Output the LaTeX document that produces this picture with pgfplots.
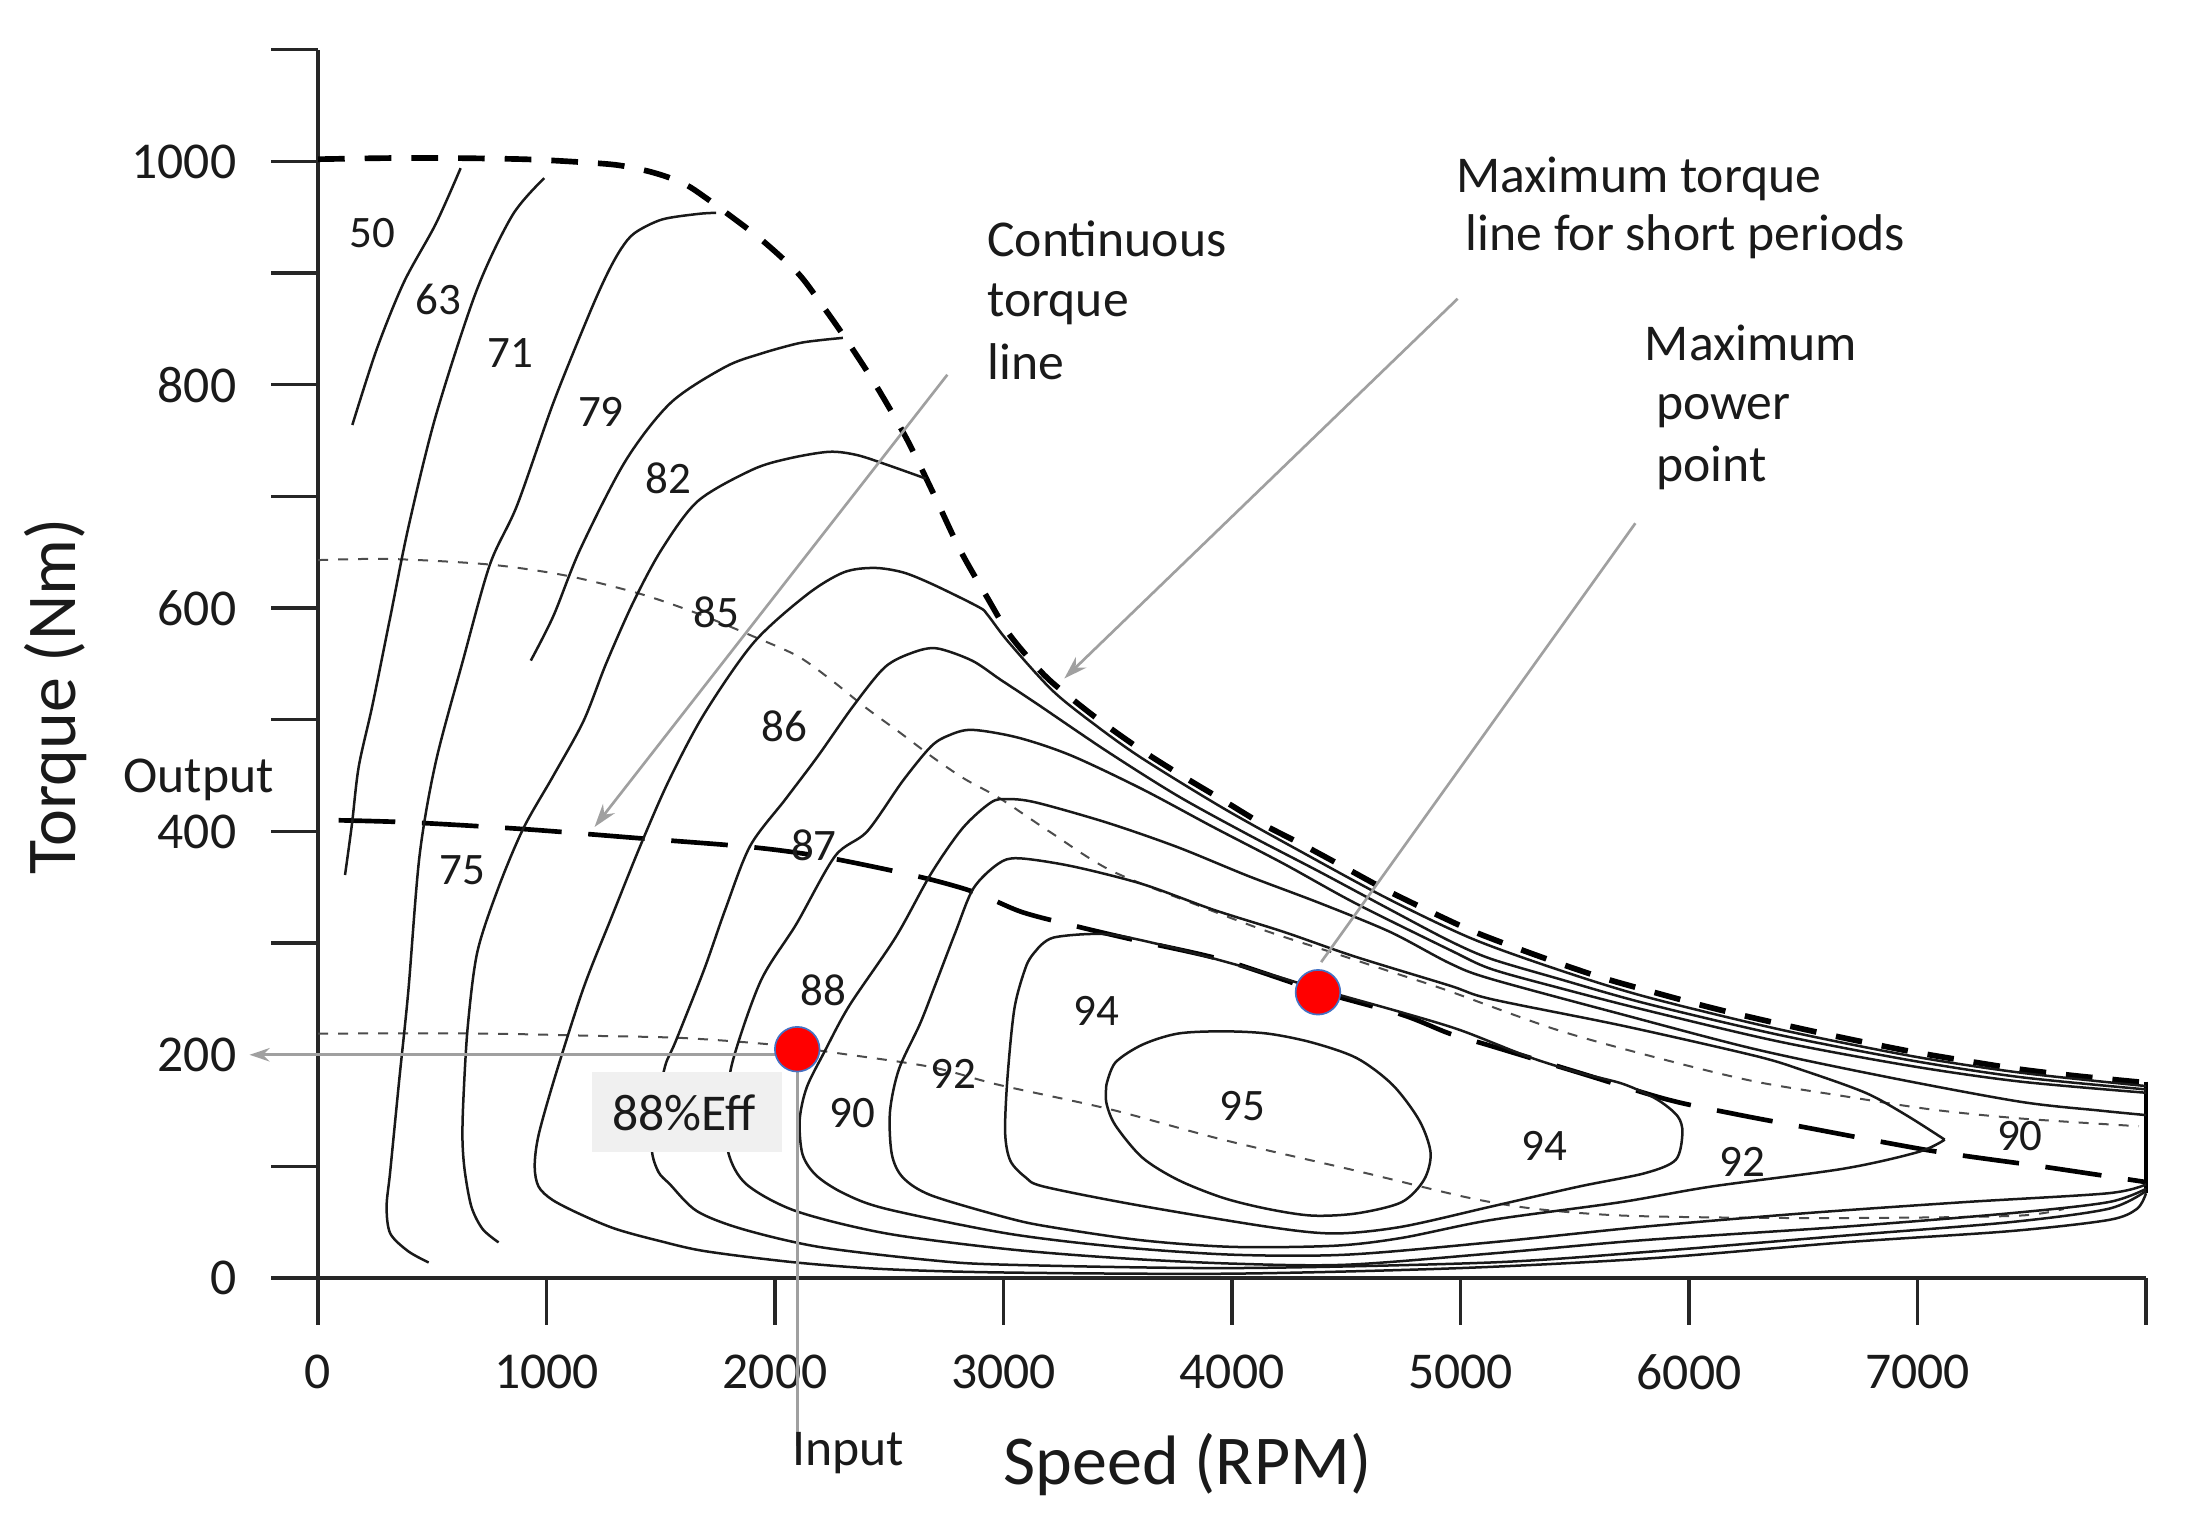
\documentclass[border=0pt]{standalone}
\usepackage{fontspec}
\setmainfont{Carlito}
\usepackage{pgfplots}
\pgfplotsset{compat=1.18}
\usetikzlibrary{arrows.meta}

\definecolor{txt}{HTML}{1A1A1A}
\definecolor{arrowgray}{HTML}{A0A0A0}
\definecolor{boxgray}{HTML}{F0F0F0}
\definecolor{dotblue}{HTML}{4472C4}

\newcommand{\ann}{\fontsize{15.5}{18}\selectfont}
\newcommand{\clab}{\fontsize{13.5}{16}\selectfont}

\pgfplotsset{
  contour/.style={black!90, line width=0.75pt, smooth, no markers},
  maxtorque/.style={black, line width=1.7pt, dash pattern=on 8pt off 6pt, smooth, no markers},
  conttorque/.style={black, line width=1.4pt, dash pattern=on 17pt off 8pt, smooth, no markers},
  dotline/.style={black!70, line width=0.6pt, dash pattern=on 3pt off 3pt, smooth, no markers},
}

\begin{document}
\begin{tikzpicture}
\begin{axis}[
  scale only axis, width=548.4pt, height=368.5pt,
  xmin=0, xmax=8000, ymin=0, ymax=1100,
  axis lines=left,
  axis line style={-, line width=1pt, black!85},
  tick align=outside, major tick length=14pt,
  tick style={line width=1pt, black!85},
  xtick={0,1000,...,8000},
  xticklabels={0,1000,2000,3000,4000,5000,6000,7000,},
  ytick={0,100,...,1100},
  yticklabels={0,,200,,400,,600,,800,,1000,},
  ticklabel style={font=\ann, text=txt},
  xticklabel style={yshift=-5.5pt},
  yticklabel style={xshift=-7pt},
  xlabel={Speed (RPM)}, ylabel={Torque (Nm)},
  label style={font=\fontsize{21}{24}\selectfont, text=txt},
  x label style={at={(axis description cs:0.4756,-0.1515)}, anchor=center},
  y label style={at={(axis description cs:-0.1434,0.4736)}, anchor=center},
  clip=false,
]

% maximum torque line for short periods
\addplot[maxtorque] coordinates {
(0,1002) (300,1003) (600,1003) (900,1002) (1100,1000) (1300,997) (1430,992) (1530,986)
(1620,978) (1700,967) (1780,955) (1940,930) (2100,900) (2200,873) (2300,844) (2440,800)
(2575,752) (2690,704) (2810,652) (2930,609) (3020,578) (3120,553) (3215,533) (3410,501)
(3610,472) (3780,450) (3960,428) (4130,407) (4310,388) (4500,367) (4680,347) (4860,329)
(5050,311) (5240,296) (5430,282) (5620,269) (5810,258) (6100,242) (6390,228) (6680,215)
(6970,203) (7200,195) (7450,187) (7700,181) (8000,175)};
\addplot[black, line width=1.4pt] coordinates {(8000,176) (8000,76)};

% continuous torque line
\addplot[conttorque] coordinates {
(90,410) (415,408) (908,402) (1402,394) (1895,386) (2191,378) (2487,366) (2700,356)
(2882,345) (3078,328) (3300,316) (3568,303) (3959,285) (4376,257) (4742,236) (4952,219)
(5132,208) (5518,184) (5904,160) (6200,147) (6483,136) (7062,114) (7544,100) (8000,86)};

% thin dotted lines
\addplot[dotline] coordinates {
(0,643) (317,644) (752,639) (1089,629) (1406,613) (1663,595) (1901,575) (2099,557)
(2250,535) (2396,511) (2550,488) (2693,466) (2830,447) (2981,430) (3200,400) (3470,365)
(3861,333) (4148,311) (4448,291) (4700,274) (4937,258) (5427,222) (5904,195) (6290,176)
(6676,163) (7062,151) (7448,143) (7969,136)};
\addplot[dotline] coordinates {
(0,219) (711,219) (1200,217) (1599,215) (1994,209) (2290,201) (2685,189) (2981,173)
(3470,151) (3959,124) (4546,96) (5035,72) (5329,62) (5711,56) (6290,54) (6869,54)
(7448,56) (7640,62)};

% efficiency contours
\addplot[contour] coordinates {(150,764) (257,832) (376,892) (515,944) (624,994)};
\addplot[contour] coordinates {(990,985) (851,952) (693,884) (515,772) (396,673) (317,593)
(238,513) (178,458) (148,406) (118,361)};
\addplot[contour] coordinates {(1742,954) (1663,953) (1505,948) (1386,936) (1327,922)
(1267,900) (1188,864) (1030,784) (871,692) (752,639) (634,553) (515,462) (444,378)
(395,257) (355,177) (316,96) (300,64) (316,40) (395,24) (484,14)};
\addplot[contour] coordinates {(2297,842) (2200,840) (2099,837) (1940,828) (1782,816)
(1544,784) (1346,732) (1148,653) (1030,593) (931,553)};
\addplot[contour] coordinates {(2660,716) (2495,728) (2360,737) (2237,740) (2060,734)
(1901,724) (1663,696) (1505,653) (1379,605) (1260,550) (1162,499) (1030,450) (899,403)
(790,350) (697,292) (655,225) (636,160) (632,124) (642,96) (671,64) (720,44) (790,32)};
% 85
\addplot[contour] coordinates {(8000,172) (7450,184) (6970,199) (6390,223) (5810,252)
(5430,276) (5050,304) (4680,340) (4310,381) (3960,421) (3610,465) (3410,494) (3215,526)
(3020,570) (2930,594) (2891,601) (2693,621) (2560,632) (2433,636) (2300,632) (2139,612)
(1906,569) (1689,505) (1534,445) (1410,387) (1286,324) (1162,260) (1038,181) (965,128)
(948,100) (965,82) (1026,70) (1150,57) (1303,44) (1500,33) (1698,24) (2092,14) (2487,8)
(3016,5) (4000,4) (5000,9) (5850,18) (6676,32) (7400,42) (7834,52) (7960,62) (8000,76)};
% 86
\addplot[contour] coordinates {(8000,169) (7450,180) (6970,195) (6390,218) (5810,246)
(5430,268) (5132,286) (4952,302) (4692,330) (4382,364) (4072,397) (3761,432) (3451,472)
(3141,515) (2986,536) (2862,553) (2707,564) (2600,560) (2480,547) (2341,512) (2186,467)
(2046,429) (1891,387) (1782,330) (1689,276) (1565,212) (1519,190) (1480,150) (1461,115)
(1490,95) (1540,84) (1658,60) (1856,44) (2191,28) (2685,16) (3016,12) (4000,9) (5132,14)
(5850,24) (6676,38) (7400,50) (7834,62) (8000,78)};
% 87
\addplot[contour] coordinates {(8000,166) (7450,176) (6970,190) (6390,212) (5810,240)
(5430,260) (5132,277) (4952,294) (4537,336) (4227,371) (3917,404) (3606,438) (3296,468)
(3064,484) (2862,491) (2760,486) (2682,476) (2558,445) (2403,400) (2263,378) (2093,317)
(1937,266) (1813,193) (1790,150) (1796,112) (1875,84) (2092,60) (2487,40) (3016,26)
(3500,18) (4000,13) (4500,12) (5132,22) (5800,34) (6676,46) (7400,58) (7834,68) (8000,80)};
% 88/90
\addplot[contour] coordinates {(8000,146) (7800,150) (7448,158) (6869,180) (6290,205)
(5710,236) (5132,268) (4952,282) (4692,310) (4382,336) (4072,360) (3761,386) (3451,408)
(3141,426) (3017,429) (2945,426) (2821,403) (2682,362) (2527,305) (2325,244) (2217,203)
(2139,171) (2108,142) (2120,111) (2180,92) (2300,76) (2487,62) (3016,40) (3500,28)
(4000,21) (4500,21) (5132,32) (5800,46) (6500,58) (7200,68) (7834,76) (8000,84)};
% 92 (closed, tip near 7100 rpm)
\addplot[contour] coordinates {(7119,124) (6950,146) (6772,166) (6500,186) (6290,199)
(5710,226) (5132,250) (4952,262) (4537,288) (4227,310) (3917,330) (3606,353) (3296,369)
(3064,376) (2976,371) (2868,349) (2790,310) (2700,262) (2635,228) (2542,187) (2503,149)
(2511,111) (2560,90) (2685,74) (3016,54) (3200,46) (3600,34) (4000,28) (4448,29)
(4742,36) (5132,52) (5700,68) (6097,82) (6676,98) (7004,113) (7119,124)};
% 94 (closed)
\addplot[contour] coordinates {(3141,293) (3219,305) (3451,308) (3700,298) (3959,284)
(4200,270) (4376,259) (4742,238) (5000,222) (5300,198) (5518,184) (5710,174) (5860,160)
(5950,145) (5971,130) (5942,106) (5807,94) (5518,82) (5132,64) (4742,46) (4448,40)
(4155,46) (3568,66) (3176,82) (3098,90) (3030,105) (3007,130) (3017,179) (3048,242)
(3100,280) (3141,293)};
% 95 (closed)
\addplot[contour] coordinates {(3450,173) (3489,193) (3607,209) (3763,219) (3959,221)
(4155,219) (4350,211) (4546,197) (4703,173) (4820,141) (4869,112) (4840,88) (4742,68)
(4546,58) (4350,56) (4155,62) (3959,72) (3763,88) (3607,108) (3489,137) (3450,157)
(3450,173)};

% 88% efficiency box
\fill[boxgray] (axis cs:1201,112.6) rectangle (axis cs:2030,185);
\node[font=\ann, text=txt] at (axis cs:1600,148) {88\%Eff};

% operating points
\addplot[only marks, mark=*, mark size=6.7pt,
  mark options={fill=red, draw=dotblue, line width=0.5pt}]
  coordinates {(2097,205) (4376,256)};

% pointer lines
\draw[arrowgray, line width=1pt, -{Stealth[length=6pt,width=4pt]}]
  (axis cs:2097,200) -- (axis cs:-300,200);
\draw[arrowgray, line width=1pt] (axis cs:2097,200) -- (axis cs:2097,-150);
\draw[arrowgray, line width=0.8pt, -{Stealth[length=7pt,width=4.5pt]}]
  (axis cs:2754,809) -- (axis cs:1210,404);
\draw[arrowgray, line width=0.8pt, -{Stealth[length=7pt,width=4.5pt]}]
  (axis cs:4987,877) -- (axis cs:3266,537);
\draw[arrowgray, line width=0.8pt] (axis cs:5765,676) -- (axis cs:4390,283);

% contour values
\begin{scope}[every node/.style={font=\clab, text=txt}]
\node at (axis cs:238,936) {50};
\node at (axis cs:525,876) {63};
\node at (axis cs:842,828) {71};
\node at (axis cs:1238,776) {79};
\node at (axis cs:1535,716) {82};
\node at (axis cs:1745,596) {85};
\node at (axis cs:2040,494) {86};
\node at (axis cs:632,365) {75};
\node at (axis cs:2170,388) {87};
\node at (axis cs:2210,258) {88};
\node at (axis cs:2340,148) {90};
\node at (axis cs:2780,183) {92};
\node at (axis cs:3405,239) {94};
\node at (axis cs:4045,154) {95};
\node at (axis cs:5368,118) {94};
\node at (axis cs:6232,104) {92};
\node at (axis cs:7448,127) {90};
\end{scope}

% annotations
\begin{scope}[every node/.style={font=\ann, text=txt}]
\node[anchor=base west] at (axis cs:2878,915) {Continuous};
\node[anchor=base west] at (axis cs:2878,861) {torque};
\node[anchor=base west] at (axis cs:2878,805) {line};
\node[anchor=base west] at (axis cs:4929,972) {Maximum torque};
\node[anchor=base west] at (axis cs:4972,920) {line for short periods};
\node[anchor=base west] at (axis cs:5755,822) {Maximum};
\node[anchor=base west] at (axis cs:5805,769) {power};
\node[anchor=base west] at (axis cs:5805,713) {point};
\node[anchor=base] at (axis cs:-523,435) {Output};
\node[anchor=base west] at (axis cs:2025,-168) {Input};
\end{scope}

\coordinate (bbSW) at (axis cs:-1392,-220.3);
\coordinate (bbNE) at (axis cs:8175,1144.6);
\end{axis}
\pgfresetboundingbox
\useasboundingbox (bbSW) rectangle (bbNE);
\end{tikzpicture}
\end{document}
